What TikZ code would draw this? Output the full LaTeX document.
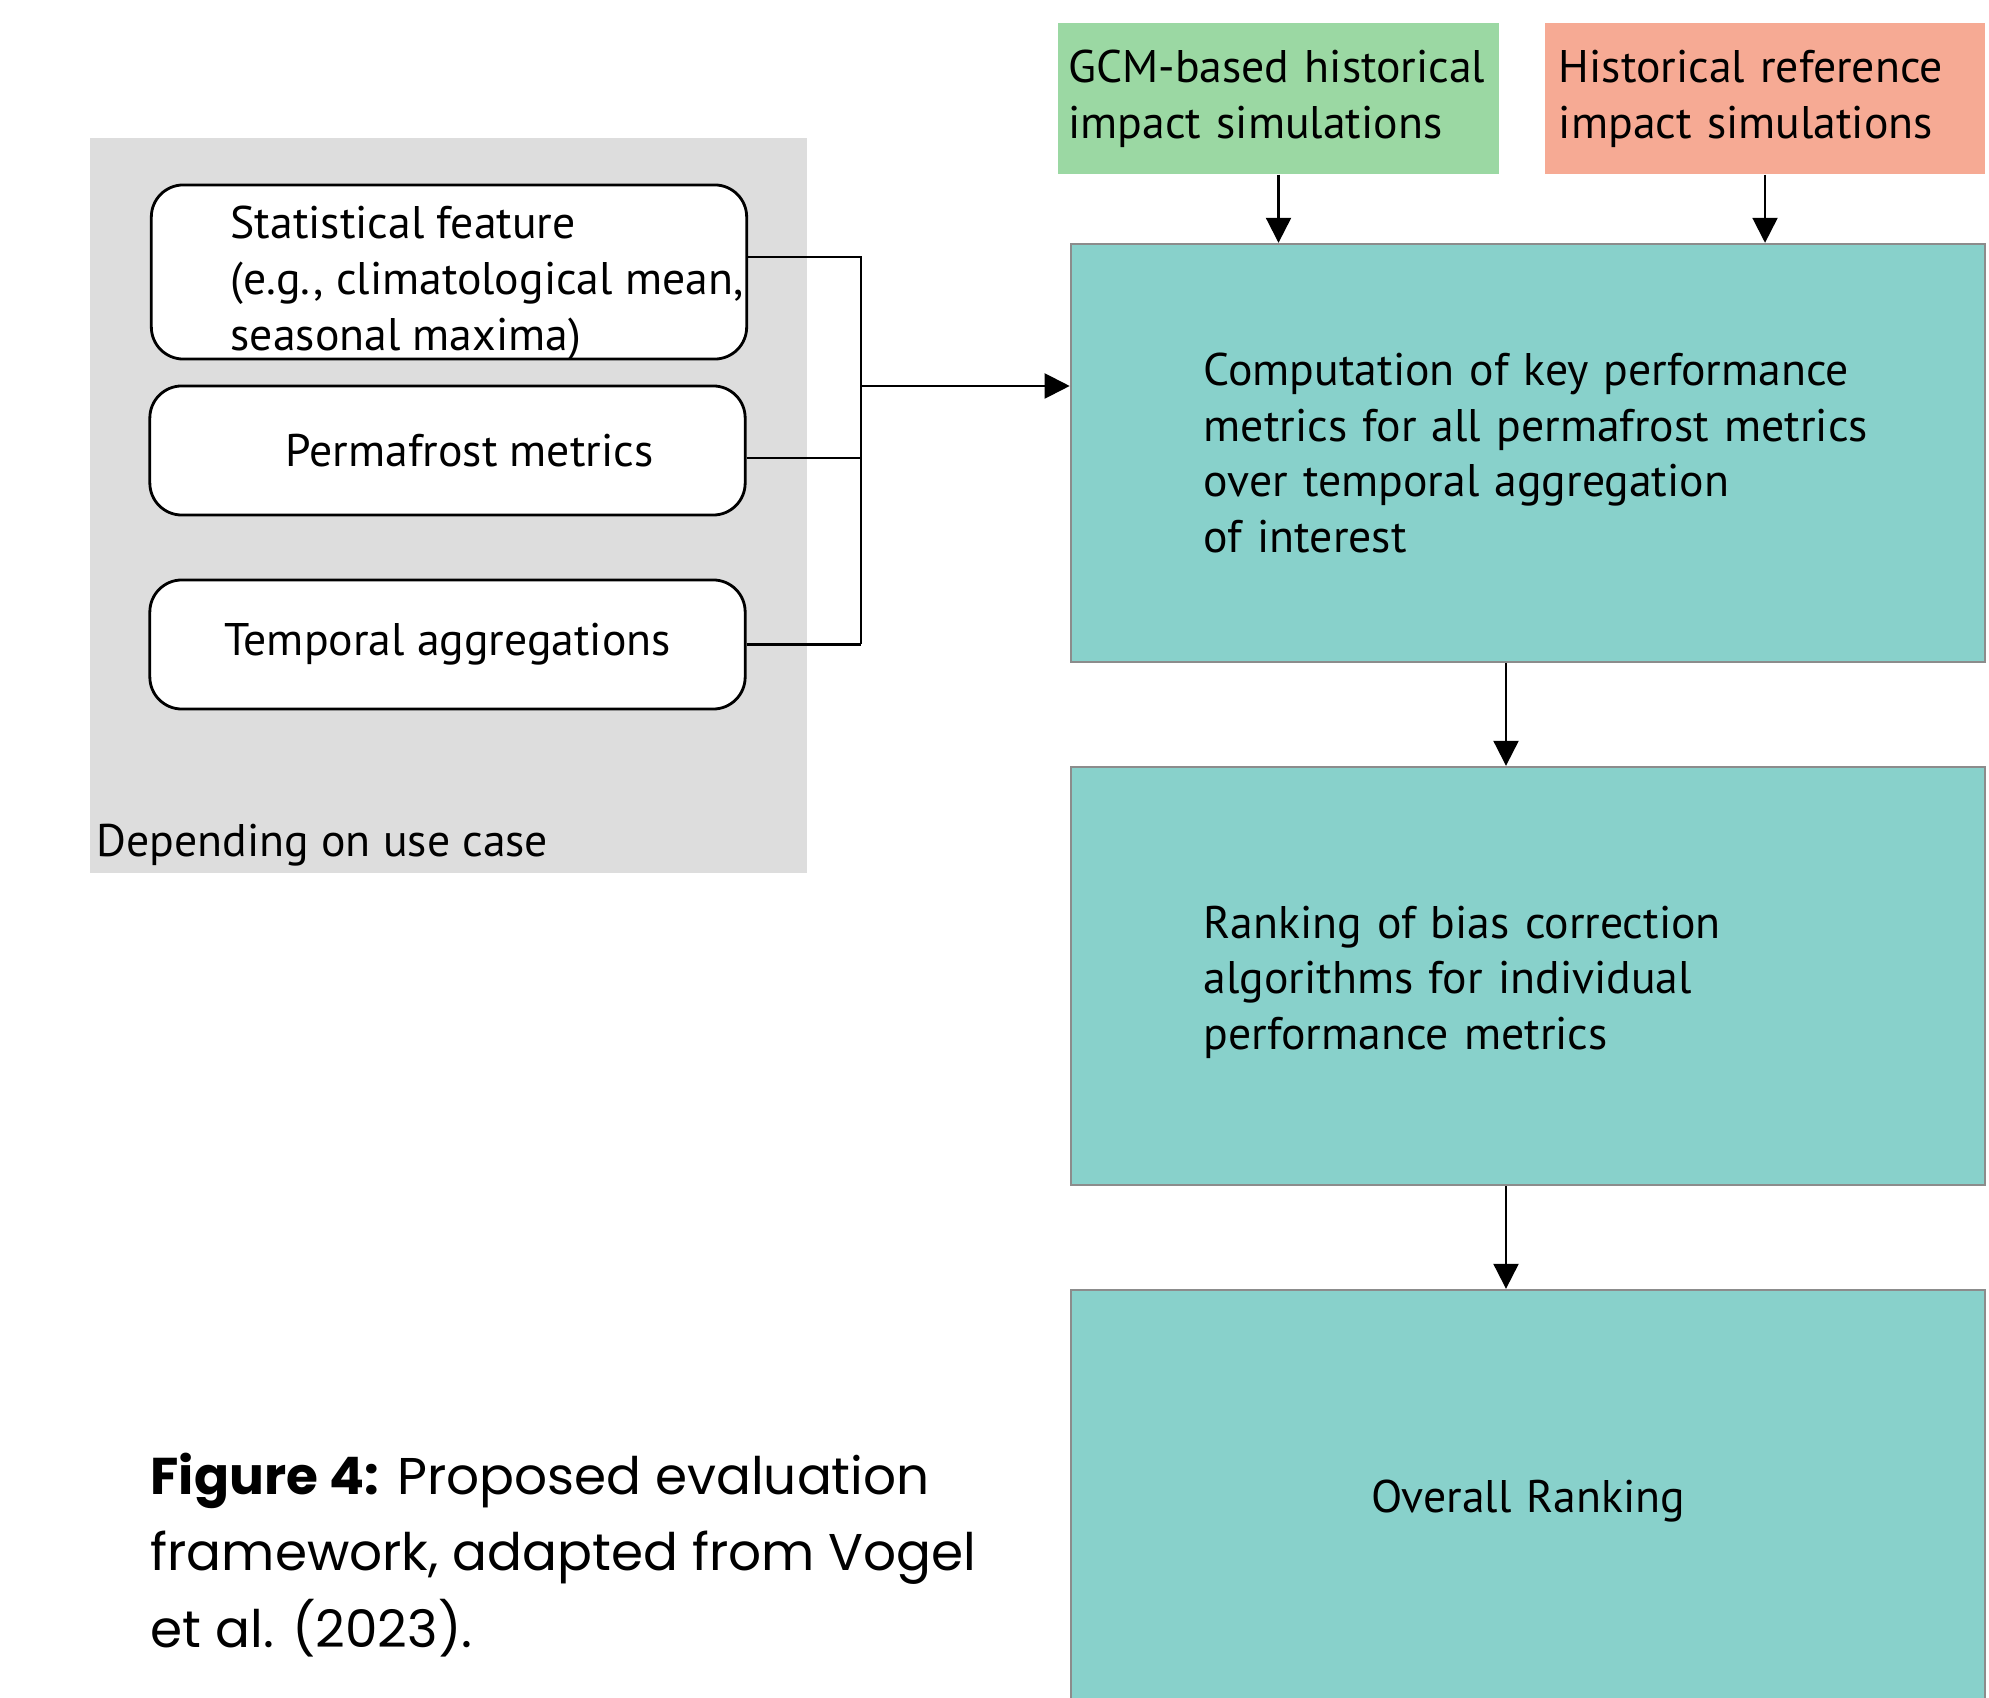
\documentclass[tikz,border=0pt]{standalone}
\usepackage{fontspec}
\setmainfont{PT Sans}
\newfontfamily\capfont{Poppins}
\usetikzlibrary{arrows.meta,positioning}

\definecolor{usecasegray}{RGB}{221,221,221}
\definecolor{gcmgreen}{RGB}{155,216,163}
\definecolor{refsalmon}{RGB}{246,170,148}
\definecolor{stepteal}{RGB}{136,209,203}
\definecolor{stepborder}{RGB}{140,140,140}

\tikzset{
  boxtext/.style={font=\fontsize{13}{15.9}\selectfont},
  casebox/.style={fill=usecasegray, draw=none},
  pill/.style={boxtext, draw=black, line width=0.8pt, fill=white, rounded corners=0.32cm,
    minimum width=5.95cm, minimum height=1.29cm},
  simbox/.style={boxtext, draw=none, align=left, text width=4.2cm, inner xsep=0.1cm,
    minimum height=1.51cm},
  stepfill/.style={boxtext, draw=stepborder, line width=0.6pt, fill=stepteal,
    minimum width=9.14cm, minimum height=4.18cm, text width=6.9cm, inner xsep=1.12cm},
  stepbox/.style={stepfill, align=left, execute at begin node={\leftskip=0.21cm}},
  link/.style={line width=0.6pt},
  arrow/.style={link, -{Triangle[width=0.25cm,length=0.25cm]}}
}

\begin{document}
\begin{tikzpicture}[x=0.01cm, y=-0.01cm]
  \useasboundingbox (0,0) rectangle (1989,1698);

  % Use-case dependent choices
  \node[casebox, minimum width=7.17cm, minimum height=7.35cm] (case) at (448.5,505.5) {};
  \node[boxtext, inner sep=0pt, anchor=base west] (caselabel) at (96,856) {Depending on use case};

  \node[pill, minimum height=1.74cm] (stat) at (449,272) {};
  \node[boxtext, inner sep=0pt, anchor=west, align=left] (stattext) at (230,283)
    {Statistical feature\\(e.g., climatological mean,\\seasonal maxima)};
  \node[pill] (perma) at (447.5,450.5) {\hspace*{0.44cm}Permafrost metrics};
  \node[pill] (temp) at (447.5,644.5) {Temporal aggregations};

  % Simulation inputs
  \node[simbox, fill=gcmgreen] (gcm) at (1278.5,98.5) {GCM-based historical\\impact simulations};
  \node[simbox, fill=refsalmon, inner xsep=0.14cm, text width=4.12cm] (ref) at (1765,98.5)
    {Historical reference\\impact simulations};

  % Evaluation steps
  \node[stepbox] (comp) at (1528,453)
    {Computation of key performance\\metrics for all permafrost metrics\\over temporal aggregation\\of interest};
  \node[stepbox] (rank) at (1528,976)
    {\rule{0pt}{0.45cm}Ranking of bias correction\\algorithms for individual\\performance metrics};
  \node[stepfill, align=center, minimum height=4.22cm] (overall) at (1528,1501) {Overall Ranking};

  % Connectors
  \coordinate (bus) at (861,386);
  \draw[link] ([yshift=0.15cm]stat.east) -| (temp.east -| bus);
  \draw[link] ([yshift=-0.075cm]perma.east) -- ([yshift=-0.075cm]perma.east -| bus);
  \draw[link] (temp.east) -- (temp.east -| bus);
  \draw[arrow] (bus) -- (bus -| comp.west);
  \draw[arrow] (gcm.south) -- (gcm.south |- comp.north);
  \draw[arrow] (ref.south) -- (ref.south |- comp.north);
  \draw[arrow] ([xshift=-0.22cm]comp.south) -- ([xshift=-0.22cm]comp.south |- rank.north);
  \draw[arrow] ([xshift=-0.22cm]rank.south) -- ([xshift=-0.22cm]rank.south |- overall.north);

  % Caption
  \node[anchor=west, inner sep=0pt, align=left, font=\capfont\fontsize{14.7}{21.8}\selectfont] (caption) at (150,1555)
    {\textbf{Figure 4:} Proposed evaluation\\framework, adapted from Vogel\\et al. (2023).};
\end{tikzpicture}
\end{document}
